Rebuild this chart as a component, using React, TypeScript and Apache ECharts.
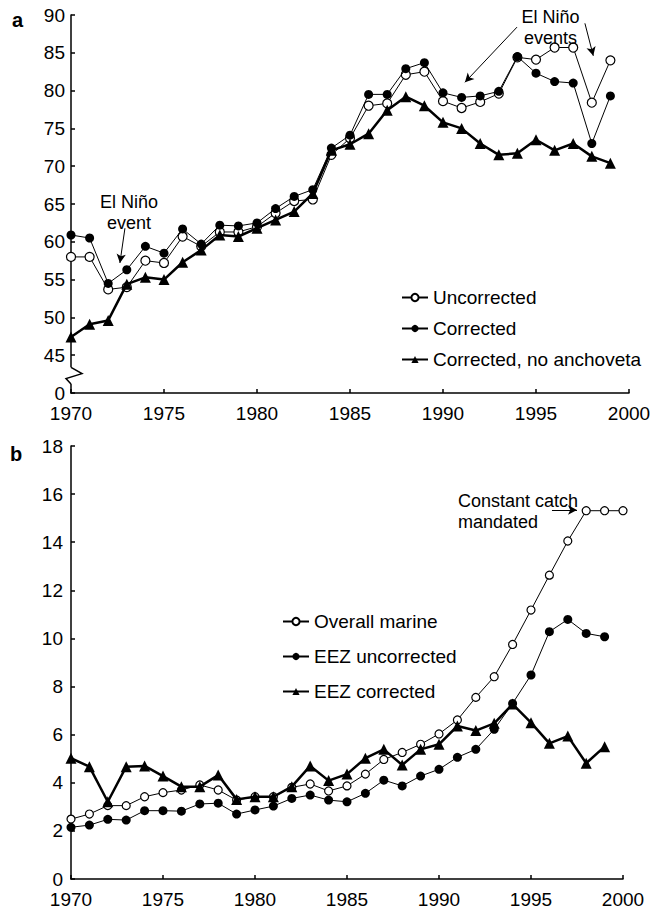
import React, { useEffect, useRef } from "react";
import * as echarts from "echarts";

const FONT = "'Liberation Sans', Arial, Helvetica, sans-serif";

// Panel a (1970-1999)
const yearsA = [1970, 1971, 1972, 1973, 1974, 1975, 1976, 1977, 1978, 1979, 1980, 1981, 1982, 1983, 1984, 1985, 1986, 1987, 1988, 1989, 1990, 1991, 1992, 1993, 1994, 1995, 1996, 1997, 1998, 1999];
const uncorrected = [58.0, 58.0, 53.7, 54.0, 57.5, 57.2, 60.7, 59.4, 61.3, 61.3, 62.0, 63.8, 65.4, 65.6, 71.5, 73.7, 78.0, 78.3, 82.1, 82.5, 78.6, 77.7, 78.5, 79.6, 84.4, 84.1, 85.7, 85.7, 78.4, 84.0];
const corrected = [60.9, 60.5, 54.5, 56.3, 59.4, 58.5, 61.7, 59.7, 62.2, 62.1, 62.5, 64.4, 66.0, 66.9, 72.4, 74.1, 79.5, 79.5, 82.9, 83.7, 79.7, 79.1, 79.3, 79.9, 84.5, 82.3, 81.2, 81.0, 73.0, 79.3];
const noAnchoveta = [47.4, 49.1, 49.6, 54.4, 55.3, 55.0, 57.3, 58.9, 60.9, 60.7, 61.8, 62.9, 64.0, 66.4, 72.1, 72.9, 74.3, 77.4, 79.2, 78.0, 75.8, 75.0, 73.0, 71.5, 71.7, 73.5, 72.1, 73.0, 71.3, 70.4];

// Panel b
const yearsB = [1970, 1971, 1972, 1973, 1974, 1975, 1976, 1977, 1978, 1979, 1980, 1981, 1982, 1983, 1984, 1985, 1986, 1987, 1988, 1989, 1990, 1991, 1992, 1993, 1994, 1995, 1996, 1997, 1998, 1999, 2000];
const overallMarine = [2.49, 2.70, 3.05, 3.05, 3.42, 3.59, 3.70, 3.91, 3.70, 3.28, 3.42, 3.42, 3.81, 3.95, 3.66, 3.87, 4.36, 4.97, 5.26, 5.60, 6.03, 6.61, 7.55, 8.41, 9.75, 11.18, 12.63, 14.05, 15.31, 15.31, 15.31];
const eezUncorrected = [2.15, 2.24, 2.48, 2.45, 2.84, 2.84, 2.82, 3.12, 3.15, 2.70, 2.87, 3.03, 3.35, 3.49, 3.28, 3.21, 3.56, 4.11, 3.87, 4.28, 4.56, 5.06, 5.39, 6.22, 7.30, 8.48, 10.28, 10.79, 10.21, 10.07];
const eezCorrected = [5.02, 4.67, 3.21, 4.67, 4.70, 4.28, 3.84, 3.84, 4.32, 3.31, 3.42, 3.42, 3.84, 4.70, 4.09, 4.36, 5.02, 5.39, 4.74, 5.39, 5.60, 6.36, 6.17, 6.47, 7.27, 6.50, 5.64, 5.94, 4.81, 5.50];

const legendA = ["Uncorrected", "Corrected", "Corrected, no anchoveta"];
const legendB = ["Overall marine", "EEZ uncorrected", "EEZ corrected"];

const pairs = (xs: number[], ys: number[]) => ys.map((v, i) => [xs[i], v]);

const FS = 19;

const axisCommon = {
  axisLine: { show: true, lineStyle: { color: "#000", width: 1.5 } },
  axisTick: { show: true, inside: true, length: 4, lineStyle: { color: "#000", width: 1.5 } },
  splitLine: { show: false },
};

export default function App() {
  const ref = useRef<HTMLDivElement>(null);
  useEffect(() => {
    document.body.style.margin = "0";
    const chart = echarts.init(ref.current!, null, { renderer: "svg" });
    const xAxisBase = (gridIndex: number) => ({
      type: "value",
      gridIndex,
      min: 1970,
      max: 2000,
      interval: 5,
      ...axisCommon,
      axisLabel: {
        color: "#000",
        fontFamily: FONT,
        fontSize: FS,
        margin: 11,
        formatter: (v: number) => String(v),
      },
    });
    const open = { color: "#fff", borderColor: "#000", borderWidth: 1.2 };
    const arrowLine = {
      silent: true,
      symbol: ["none", "arrow"],
      symbolSize: [7, 9],
      label: { show: false },
      lineStyle: { color: "#000", width: 1, type: "solid" },
      emphasis: { disabled: true },
    };
    const legendText = { color: "#000", fontFamily: FONT, fontSize: FS, lineHeight: 18 };
    chart.setOption({
      animation: false,
      textStyle: { fontFamily: FONT },
      grid: [
        { left: 71, top: 15, width: 558, height: 378 },
        { left: 71, top: 446, width: 552, height: 433 },
      ],
      xAxis: [xAxisBase(0), xAxisBase(1)],
      yAxis: [
        {
          type: "value",
          gridIndex: 0,
          min: 40,
          max: 90,
          interval: 5,
          ...axisCommon,
          axisLabel: {
            color: "#000",
            fontFamily: FONT,
            fontSize: FS,
            margin: 6,
            padding: [7, 0, 0, 0],
            formatter: (v: number) => (v === 40 ? "0" : String(v)),
          },
        },
        {
          type: "value",
          gridIndex: 1,
          min: 0,
          max: 18,
          interval: 2,
          ...axisCommon,
          axisLabel: {
            color: "#000",
            fontFamily: FONT,
            fontSize: FS,
            margin: 8,
            formatter: (v: number) => String(v),
          },
        },
      ],
      legend: [
        {
          data: legendA,
          orient: "vertical",
          left: 401,
          top: 288,
          padding: 0,
          itemWidth: 26,
          itemHeight: 9,
          itemGap: 12,
          selectedMode: false,
          textStyle: legendText,
        },
        {
          data: legendB,
          orient: "vertical",
          left: 282,
          top: 612,
          padding: 0,
          itemWidth: 26,
          itemHeight: 9,
          itemGap: 16,
          selectedMode: false,
          textStyle: legendText,
        },
      ],
      series: [
        {
          name: "Uncorrected",
          type: "line",
          xAxisIndex: 0,
          yAxisIndex: 0,
          data: pairs(yearsA, uncorrected),
          symbol: "circle",
          symbolSize: 9,
          lineStyle: { color: "#000", width: 1 },
          itemStyle: open,
          z: 2,
        },
        {
          name: "Corrected",
          type: "line",
          xAxisIndex: 0,
          yAxisIndex: 0,
          data: pairs(yearsA, corrected),
          symbol: "circle",
          symbolSize: 9,
          lineStyle: { color: "#000", width: 1 },
          itemStyle: { color: "#000" },
          z: 3,
          markLine: {
            ...arrowLine,
            data: [
              [{ coord: [1972.9, 61.8] }, { coord: [1972.63, 57.2] }],
              [{ coord: [1993.98, 88.4] }, { coord: [1991.18, 81.1] }],
              [{ coord: [1997.63, 88.9] }, { coord: [1998.08, 84.6] }],
            ],
          },
        },
        {
          name: "Corrected, no anchoveta",
          type: "line",
          xAxisIndex: 0,
          yAxisIndex: 0,
          data: pairs(yearsA, noAnchoveta),
          symbol: "triangle",
          symbolSize: 11,
          lineStyle: { color: "#000", width: 2.5 },
          itemStyle: { color: "#000" },
          z: 4,
        },
        {
          name: "Overall marine",
          type: "line",
          xAxisIndex: 1,
          yAxisIndex: 1,
          data: pairs(yearsB, overallMarine),
          symbol: "circle",
          symbolSize: 8,
          lineStyle: { color: "#000", width: 1 },
          itemStyle: open,
          z: 2,
          markLine: {
            ...arrowLine,
            data: [[{ coord: [1996.14, 15.34] }, { coord: [1997.5, 15.34] }]],
          },
        },
        {
          name: "EEZ corrected",
          type: "line",
          xAxisIndex: 1,
          yAxisIndex: 1,
          data: pairs(yearsA, eezCorrected),
          symbol: "triangle",
          symbolSize: 11,
          lineStyle: { color: "#000", width: 2.5 },
          itemStyle: { color: "#000" },
          z: 3,
        },
        {
          name: "EEZ uncorrected",
          type: "line",
          xAxisIndex: 1,
          yAxisIndex: 1,
          data: pairs(yearsA, eezUncorrected),
          symbol: "circle",
          symbolSize: 9,
          lineStyle: { color: "#000", width: 1 },
          itemStyle: { color: "#000" },
          z: 4,
        },
      ],
    });

    // axis break on panel a's y axis, computed from the axis scale
    const top = chart.convertToPixel({ gridIndex: 0 }, [1970, 43.4]) as number[];
    const bot = chart.convertToPixel({ gridIndex: 0 }, [1970, 41.2]) as number[];
    const ax = top[0];
    const h = bot[1] - top[1];
    const txt = (text: string, x: number, y: number, align = "center", weight = "normal", size = 18) => ({
      type: "text",
      x,
      y,
      z: 100,
      silent: true,
      style: {
        text,
        fill: "#000",
        font: `${weight} ${size}px ${FONT}`,
        lineHeight: 21,
        align,
        verticalAlign: "middle",
      },
    });
    chart.setOption({
      graphic: [
        { type: "rect", z: 90, silent: true, shape: { x: ax - 3, y: top[1], width: 6, height: h }, style: { fill: "#fff" } },
        {
          type: "polyline",
          z: 95,
          silent: true,
          shape: {
            points: [
              [ax, top[1]],
              [ax + 11, top[1] + h * 0.38],
              [ax - 5, top[1] + h * 0.68],
              [ax, bot[1]],
            ],
          },
          style: { stroke: "#000", lineWidth: 1.5, fill: null },
        },
        txt("a", 12, 20, "left", "bold", 20),
        txt("b", 10, 454, "left", "bold", 20),
        txt("El Niño\nevent", 129, 212.5),
        txt("El Niño\nevents", 550.5, 27.5),
        txt("Constant catch\nmandated", 458, 511, "left"),
      ],
    });
    return () => chart.dispose();
  }, []);
  return <div ref={ref} style={{ width: 658, height: 909 }} />;
}
